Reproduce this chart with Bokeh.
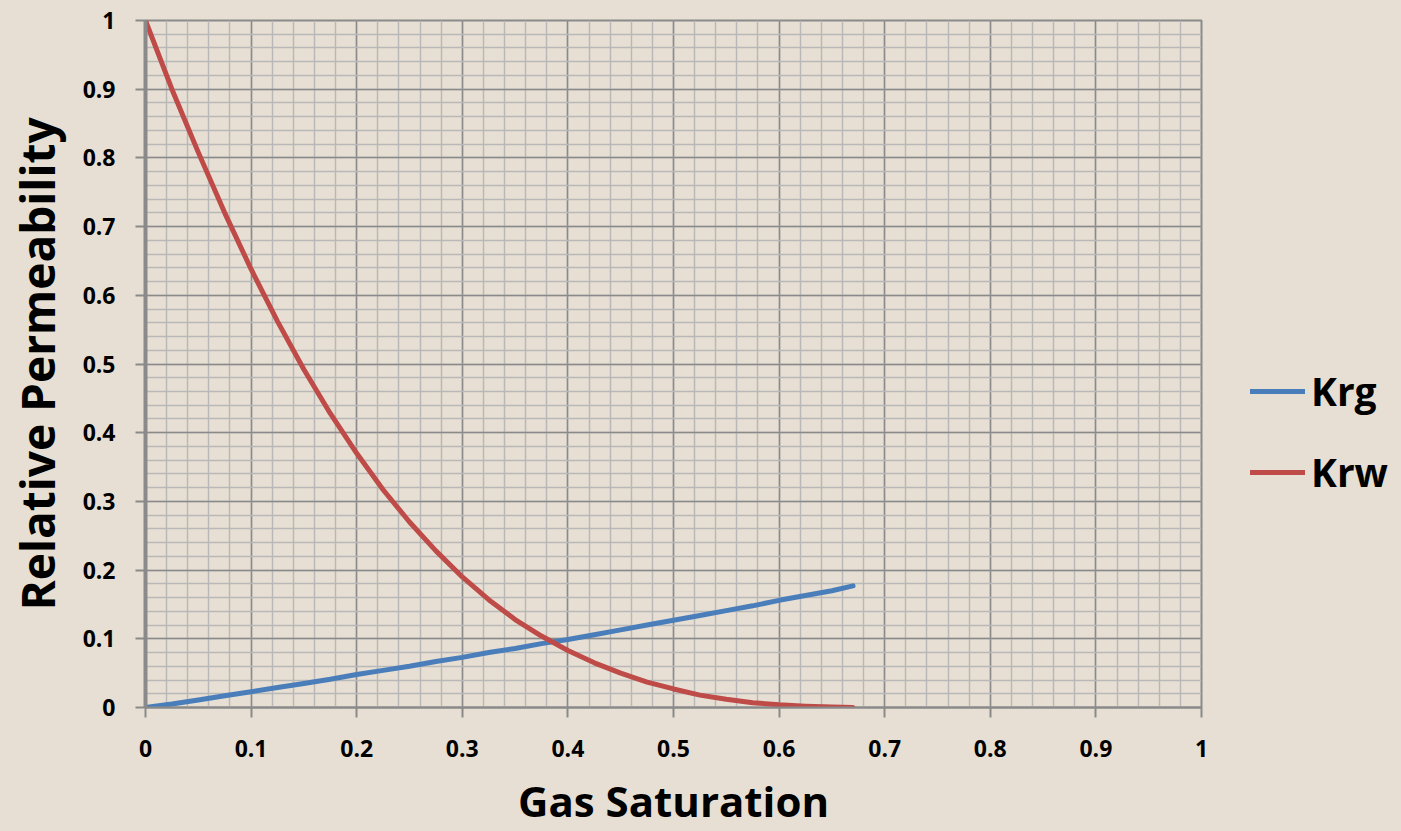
from bokeh.plotting import figure
from bokeh.layouts import row
from bokeh.models import (Range1d, FixedTicker, CustomJSTickFormatter, Legend, LegendItem)
from bokeh.embed import file_html
from bokeh.resources import INLINE

# ---- data ----
sg = [0.0, 0.025, 0.05, 0.075, 0.10, 0.125, 0.15, 0.175, 0.20, 0.225, 0.25, 0.275, 0.30,
      0.325, 0.35, 0.375, 0.40, 0.425, 0.45, 0.475, 0.50, 0.525, 0.55, 0.575, 0.60, 0.625,
      0.65, 0.67]
krw = [1.0, 0.90, 0.808, 0.72, 0.638, 0.562, 0.492, 0.428, 0.37, 0.317, 0.27, 0.228, 0.19,
       0.157, 0.128, 0.104, 0.083, 0.065, 0.05, 0.037, 0.027, 0.018, 0.012, 0.007, 0.004,
       0.002, 0.0006, 0.0]
krg = [0.0, 0.005, 0.011, 0.017, 0.023, 0.029, 0.035, 0.041, 0.048, 0.054, 0.060, 0.067,
       0.073, 0.080, 0.086, 0.093, 0.099, 0.106, 0.113, 0.120, 0.127, 0.134, 0.141, 0.148,
       0.156, 0.163, 0.170, 0.177]
series_names = ["Krg", "Krw"]
series_colors = ["#4a7ebb", "#be4b48"]

major_ticks = [0.0, 0.1, 0.2, 0.3, 0.4, 0.5, 0.6, 0.7, 0.8, 0.9, 1.0]
minor_ticks = [round(i * 0.02, 2) for i in range(51)]

BG = "#e7dfd3"
FONT = "Open Sans"

p = figure(width=1230, height=831, output_backend="svg", toolbar_location=None,
           x_range=Range1d(0, 1), y_range=Range1d(0, 1),
           min_border_left=145, min_border_right=29, min_border_top=20, min_border_bottom=124)
p.background_fill_color = BG
p.border_fill_color = BG
p.outline_line_color = "#8a8a8a"
p.outline_line_width = 2

fmt = CustomJSTickFormatter(code="return tick.toFixed(1).replace(/\\.0$/, '');")
for ax, grid in ((p.xaxis[0], p.xgrid[0]), (p.yaxis[0], p.ygrid[0])):
    ax.ticker = FixedTicker(ticks=major_ticks, minor_ticks=minor_ticks)
    ax.formatter = fmt
    ax.minor_tick_line_color = None
    ax.major_tick_in = 0
    ax.major_tick_out = 10
    ax.major_tick_line_color = "#8a8a8a"
    ax.major_tick_line_width = 2
    ax.major_label_text_font = FONT
    ax.major_label_text_font_style = "bold"
    ax.major_label_text_font_size = "23px"
    ax.major_label_text_color = "#000000"
    ax.axis_label_text_font = FONT
    ax.axis_label_text_font_style = "bold"
    ax.axis_label_text_color = "#000000"
    ax.axis_line_color = "#8a8a8a"
    grid.grid_line_color = "#8a8a8a"
    grid.grid_line_width = 1.5
    grid.minor_grid_line_color = "#b8b8b8"
    grid.minor_grid_line_width = 1.5

p.xaxis.axis_label = "Gas Saturation"
p.yaxis.axis_label = "Relative Permeability"
p.xaxis.axis_label_text_font_size = "42px"
p.yaxis.axis_label_text_font_size = "46px"
p.xaxis.major_label_standoff = 22
p.yaxis.major_label_standoff = 20
p.xaxis.axis_line_width = 2
p.yaxis.axis_line_width = 4
p.xaxis.axis_label_standoff = 12
p.yaxis.axis_label_standoff = 12

r_krg = p.line(sg, krg, line_color=series_colors[0], line_width=5, line_cap="round", line_join="round")
r_krw = p.line(sg, krw, line_color=series_colors[1], line_width=5, line_cap="round", line_join="round")

# legend panel to the right of the plot area
p2 = figure(width=171, height=831, output_backend="svg", toolbar_location=None,
            x_range=Range1d(0, 1), y_range=Range1d(0, 1),
            min_border_left=0, min_border_right=0, min_border_top=0, min_border_bottom=0)
p2.axis.visible = False
p2.grid.visible = False
p2.outline_line_color = None
p2.background_fill_color = BG
p2.border_fill_color = BG
nan = float("nan")
leg_renderers = [p2.line([nan], [nan], line_color=c, line_width=5, line_cap="round")
                 for c in series_colors]

legend = Legend(items=[LegendItem(label=n, renderers=[r])
                       for n, r in zip(series_names, leg_renderers)],
                location=(20, 209), orientation="vertical",
                background_fill_alpha=0, border_line_color=None,
                label_text_font=FONT, label_text_font_style="bold",
                label_text_font_size="39px", label_text_color="#000000",
                glyph_width=55, glyph_height=40, label_height=40,
                label_standoff=6, spacing=28, padding=0, margin=0)
p2.add_layout(legend, "center")

layout = row(p, p2, spacing=0)
layout.styles = {"background-color": BG}
open("out.html", "w").write(file_html(layout, INLINE))
